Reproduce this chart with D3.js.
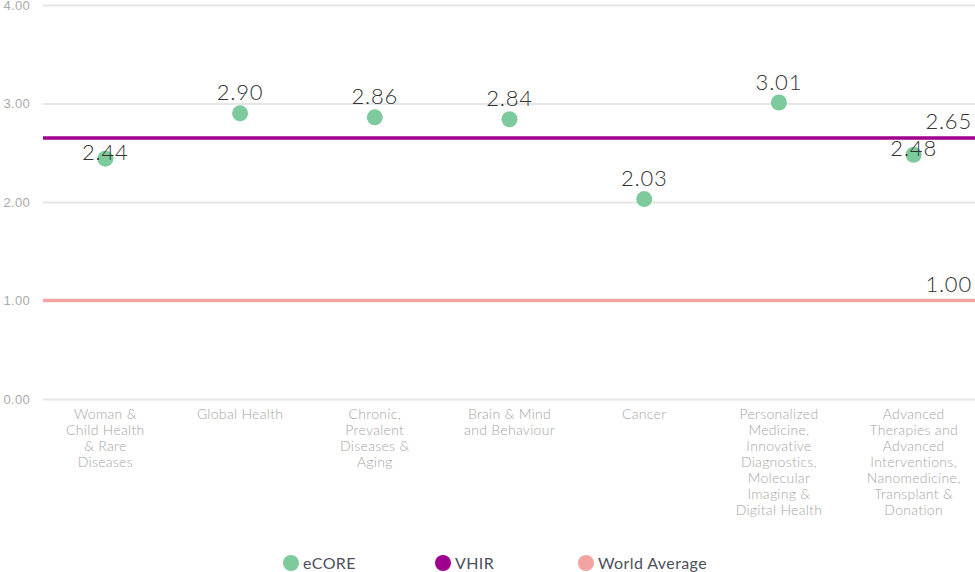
<!DOCTYPE html>
<html>
<head>
<meta charset="utf-8">
<script src="https://cdn.jsdelivr.net/npm/d3@7"></script>
<style>
  body { margin: 0; background: #fff; }
  svg { font-family: "Lato", "Open Sans", sans-serif; font-weight: 300; }
</style>
</head>
<body>
<svg id="chart" width="975" height="572"></svg>
<script>
// chart values
var categories = [
  "Woman &\nChild Health\n& Rare\nDiseases",
  "Global Health",
  "Chronic,\nPrevalent\nDiseases &\nAging",
  "Brain & Mind\nand Behaviour",
  "Cancer",
  "Personalized\nMedicine,\nInnovative\nDiagnostics,\nMolecular\nImaging &\nDigital Health",
  "Advanced\nTherapies and\nAdvanced\nInterventions,\nNanomedicine,\nTransplant &\nDonation"
];
var ecoreValues = [2.44, 2.90, 2.86, 2.84, 2.03, 3.01, 2.48];
var vhirValue = 2.65;
var worldAverageValue = 1.00;
var yTicks = [0, 1, 2, 3, 4];
var legendNames = ["eCORE", "VHIR", "World Average"];

var COLOR_ECORE = "#7dcb9c";
var COLOR_VHIR = "#a0008e";
var COLOR_WORLD = "#f4a3a3";

var svg = d3.select("#chart"),
    margin = {top: 5, right: 0, bottom: 173, left: 43},
    width = +svg.attr("width") - margin.left - margin.right,
    height = +svg.attr("height") - margin.top - margin.bottom,
    g = svg.append("g").attr("transform", "translate(" + margin.left + "," + margin.top + ")");

var x = d3.scaleBand()
    .domain(categories)
    .range([-5, width + 6]);

var y = d3.scaleLinear()
    .domain([0, 4])
    .range([height, 0]);

// grid + y labels
var yAxis = g.append("g")
    .attr("class", "axis axis--y")
    .call(d3.axisLeft(y).tickValues(yTicks).tickSize(-width).tickFormat(d3.format(".2f")));
yAxis.select(".domain").remove();
yAxis.selectAll(".tick line").attr("stroke", "#e6e6e6").attr("stroke-width", 2);
yAxis.selectAll(".tick text")
    .attr("x", -13)
    .attr("fill", "#aaa")
    .style("font-size", "13px")
    .style("letter-spacing", "0.3px");

// x labels
var xLabels = g.append("g")
    .attr("class", "axis axis--x")
    .selectAll("text")
    .data(categories)
    .enter().append("text")
      .attr("text-anchor", "middle")
      .attr("fill", "#a6a6a6")
      .style("font-size", "14px")
      .style("letter-spacing", "0.3px")
      .attr("transform", function(d) { return "translate(" + (x(d) + x.bandwidth() / 2) + "," + (height + 20) + ")"; });
xLabels.selectAll("tspan")
    .data(function(d) { return d.split("\n"); })
    .enter().append("tspan")
      .attr("x", 0)
      .attr("dy", function(d, i) { return i === 0 ? 0 : 16; })
      .text(function(d) { return d; });

// reference lines
function refLine(value, color) {
  g.append("line")
      .attr("x1", 0)
      .attr("x2", width)
      .attr("y1", y(value))
      .attr("y2", y(value))
      .attr("stroke", color)
      .attr("stroke-width", 3.5);
  g.append("text")
      .attr("x", width - 3)
      .attr("y", y(value) - 9)
      .attr("text-anchor", "end")
      .attr("fill", "#333")
      .style("font-size", "22px")
      .style("letter-spacing", "0.8px")
      .text(d3.format(".2f")(value));
}
refLine(worldAverageValue, COLOR_WORLD);
refLine(vhirValue, COLOR_VHIR);

// eCORE points
var pts = g.selectAll(".pt")
    .data(ecoreValues)
    .enter().append("g")
      .attr("class", "pt")
      .attr("transform", function(d, i) { return "translate(" + (x(categories[i]) + x.bandwidth() / 2) + "," + y(d) + ")"; });

pts.append("circle")
    .attr("r", 8)
    .attr("fill", COLOR_ECORE);

// labels that would sit on the VHIR line drop onto the point
function dropped(d) { return y(d) - 13 - 17 < y(vhirValue) && y(d) > y(vhirValue); }

pts.append("text")
    .attr("text-anchor", "middle")
    .attr("fill", "#333")
    .style("font-size", "22px")
    .style("letter-spacing", "0.8px")
    .attr("y", function(d) { return dropped(d) ? 1 : -13; })
    .text(function(d) { return d3.format(".2f")(d); });

// legend
var legendColors = [COLOR_ECORE, COLOR_VHIR, COLOR_WORLD];
var legendX = [291, 443, 586];
var legend = svg.append("g").selectAll("g")
    .data(legendNames)
    .enter().append("g")
      .attr("transform", function(d, i) { return "translate(" + legendX[i] + ",563)"; });
legend.append("circle")
    .attr("r", 8)
    .attr("fill", function(d, i) { return legendColors[i]; });
legend.append("text")
    .attr("x", 12)
    .attr("dy", "0.35em")
    .attr("fill", "#4d4f5c")
    .style("font-size", "16px")
    .style("letter-spacing", "0.4px")
    .style("font-weight", 400)
    .text(function(d) { return d; });
</script>
</body>
</html>
